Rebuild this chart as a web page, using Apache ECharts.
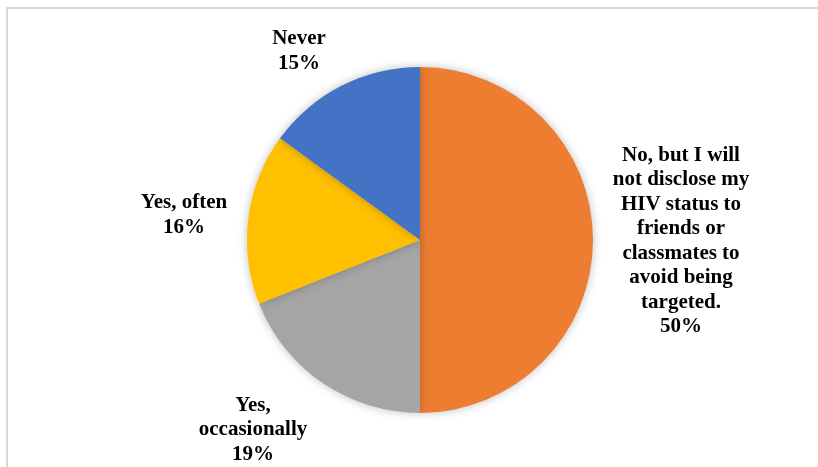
<!DOCTYPE html>
<html>
<head>
<meta charset="utf-8">
<script src="https://cdn.jsdelivr.net/npm/echarts@6/dist/echarts.min.js"></script>
<style>
  html, body { margin: 0; padding: 0; background: #fff; }
  #frame { position: absolute; left: 6px; top: 7px; width: 830px; height: 480px; border: 2px solid #d9d9d9; box-sizing: border-box; }
  #chart { position: absolute; left: 0; top: 0; width: 818px; height: 467px; }
</style>
</head>
<body>
<div id="frame"></div>
<div id="chart"></div>
<script>
// Survey responses and their shares (%)
const categories = [
  'No, but I will\nnot disclose my\nHIV status to\nfriends or\nclassmates to\navoid being\ntargeted.',
  'Yes,\noccasionally',
  'Yes, often',
  'Never'
];
const shares = [50, 19, 16, 15];
const sliceColors = ['#ED7D31', '#A5A5A5', '#FFC000', '#4472C4'];

// Label anchor points (centre of each text block)
const labelAnchors = [[681, 241], [253, 430], [184, 215], [299, 51]];

const chart = echarts.init(document.getElementById('chart'), null, { renderer: 'canvas' });
chart.setOption({
  animation: false,
  series: [{
    type: 'pie',
    center: [420, 240],
    radius: 173,
    startAngle: 90,
    clockwise: true,
    data: categories.map((name, i) => ({
      name: name,
      value: shares[i],
      itemStyle: { color: sliceColors[i] }
    })),
    itemStyle: {
      borderWidth: 0,
      shadowBlur: 10,
      shadowColor: 'rgba(0,0,0,0.25)'
    },
    label: {
      show: true,
      formatter: p => p.name + '\n' + p.value + '%',
      fontFamily: '"Liberation Serif", "Times New Roman", serif',
      fontWeight: 'bold',
      fontSize: 21,
      lineHeight: 24.5,
      color: '#000',
      align: 'center'
    },
    labelLine: { show: false },
    labelLayout: params => ({
      x: labelAnchors[params.dataIndex][0],
      y: labelAnchors[params.dataIndex][1],
      align: 'center',
      verticalAlign: 'middle'
    }),
    emphasis: { disabled: true }
  }]
});
</script>
</body>
</html>
